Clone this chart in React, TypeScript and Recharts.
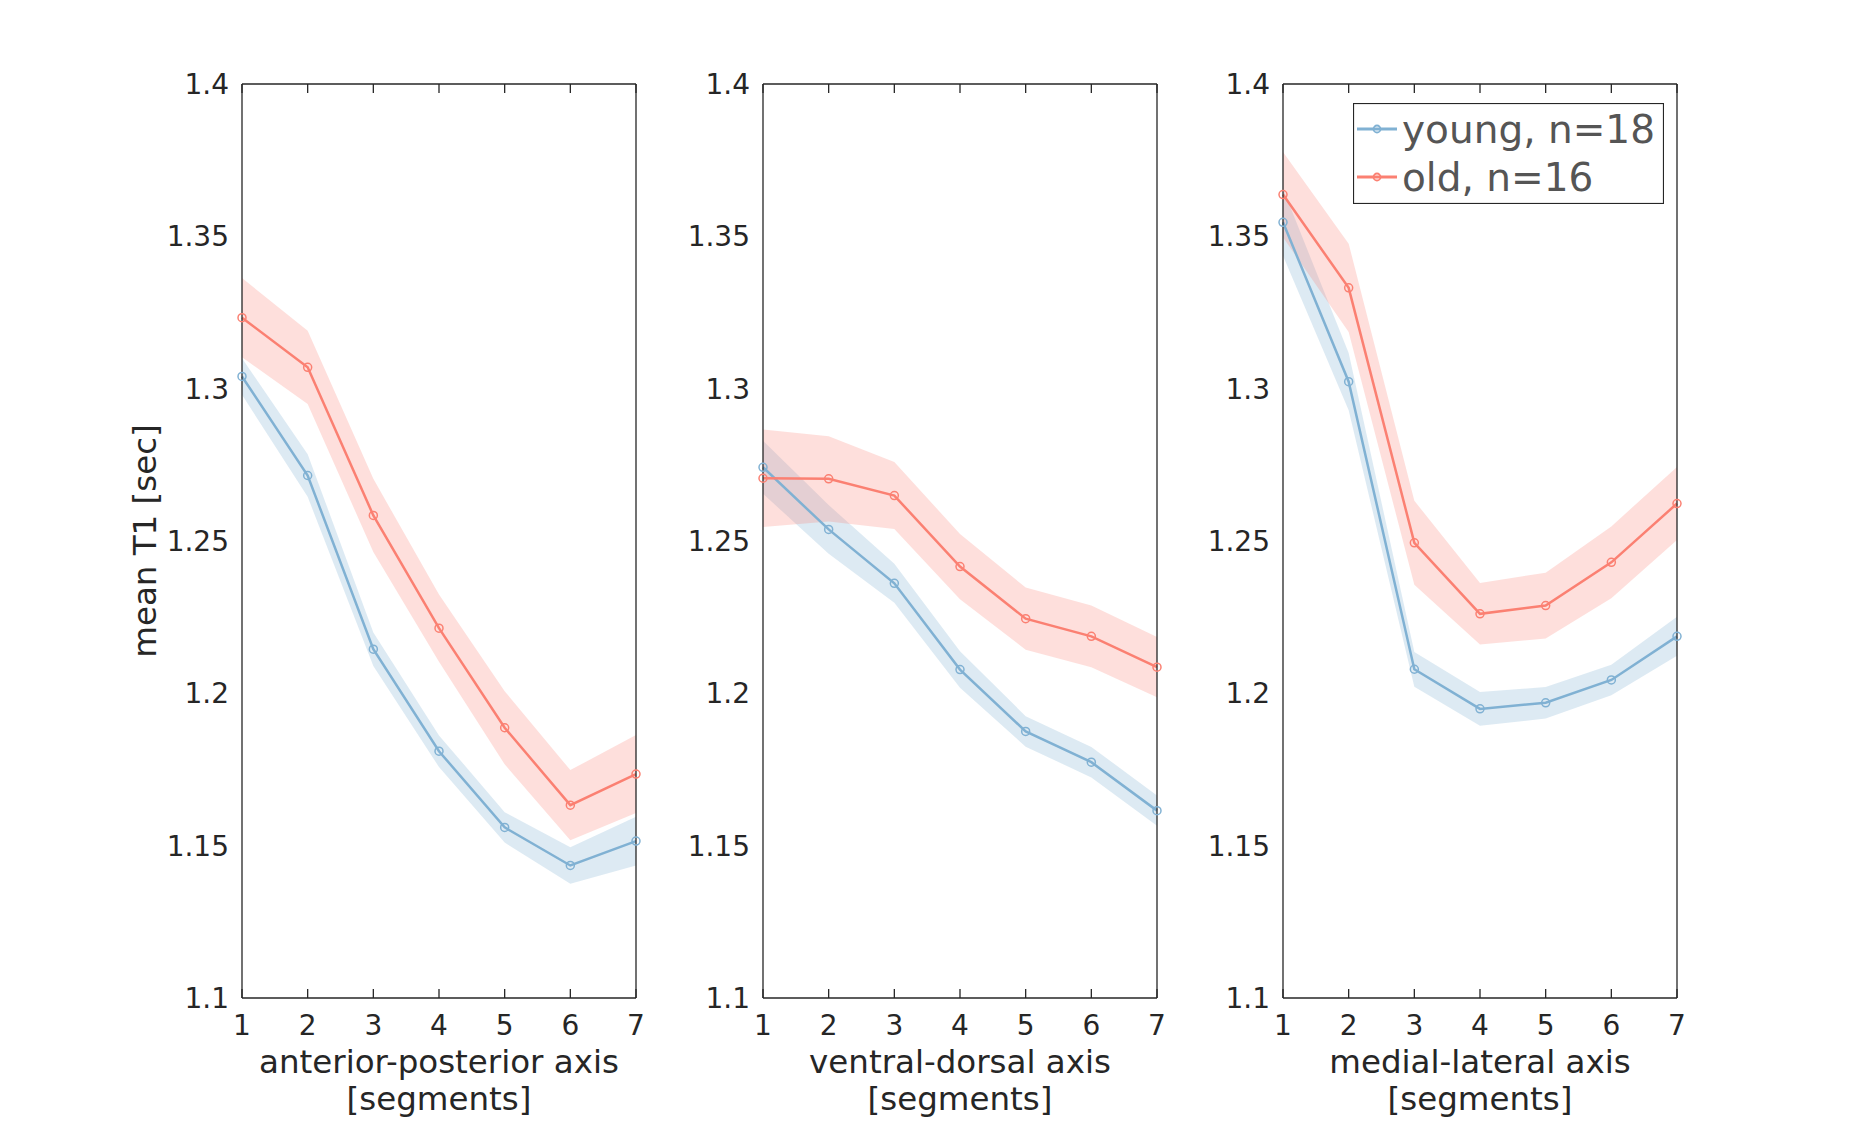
import React from 'react';
import { ComposedChart, Line, Area, XAxis, YAxis, Legend } from 'recharts';

// segment positions along each axis
const segments = [1, 2, 3, 4, 5, 6, 7];
const yTicks = [1.1, 1.15, 1.2, 1.25, 1.3, 1.35, 1.4];

// anterior-posterior
const apYoung = [1.304, 1.2715, 1.2145, 1.181, 1.156, 1.1435, 1.1515];
const apYoungCi = [0.006, 0.007, 0.0055, 0.0052, 0.005, 0.006, 0.008];
const apOld = [1.3233, 1.307, 1.2584, 1.2214, 1.1887, 1.1633, 1.1735];
const apOldCi = [0.013, 0.012, 0.012, 0.011, 0.012, 0.0115, 0.0128];

// ventral-dorsal
const vdYoung = [1.2742, 1.2538, 1.2361, 1.2078, 1.1875, 1.1774, 1.1615];
const vdYoungCi = [0.0087, 0.008, 0.0064, 0.006, 0.005, 0.005, 0.005];
const vdOld = [1.2706, 1.2704, 1.2649, 1.2416, 1.2245, 1.2187, 1.2086];
const vdOldCi = [0.016, 0.014, 0.011, 0.0107, 0.0102, 0.0101, 0.0099];

// medial-lateral
const mlYoung = [1.3546, 1.3023, 1.2079, 1.1949, 1.1969, 1.2044, 1.2187];
const mlYoungCi = [0.011, 0.0094, 0.0057, 0.0055, 0.0052, 0.005, 0.0064];
const mlOld = [1.3637, 1.3331, 1.2494, 1.2261, 1.2288, 1.243, 1.2623];
const mlOldCi = [0.014, 0.0145, 0.0138, 0.0101, 0.0108, 0.0118, 0.012];

const BLUE = '#80b1d3';
const RED = '#fb8072';
const INK = '#262626';

const rows = (young: number[], youngCi: number[], old: number[], oldCi: number[]) =>
  segments.map((seg, i) => ({
    seg,
    young: young[i],
    youngBand: [young[i] - youngCi[i], young[i] + youngCi[i]],
    old: old[i],
    oldBand: [old[i] - oldCi[i], old[i] + oldCi[i]],
  }));

const panels = [
  { title: 'anterior-posterior axis', plotLeft: 242, data: rows(apYoung, apYoungCi, apOld, apOldCi) },
  { title: 'ventral-dorsal axis', plotLeft: 763, data: rows(vdYoung, vdYoungCi, vdOld, vdOldCi) },
  { title: 'medial-lateral axis', plotLeft: 1283, data: rows(mlYoung, mlYoungCi, mlOld, mlOldCi) },
];

const AXIS_W = 120;
const PLOT_W = 394;
const RIGHT = 20;
const TICK = 9;

const NoTick = () => <g />;

const xLabel = (title: string) => (props: any) => {
  const { x, y, width } = props.viewBox;
  const cx = x + width / 2;
  return (
    <text x={cx} y={y} textAnchor="middle" fontSize={32.5} fill={INK}>
      <tspan x={cx} dy={75}>{title}</tspan>
      <tspan x={cx} dy={37}>[segments]</tspan>
    </text>
  );
};

const LegendBox = (props: any) => {
  const payload = props.payload || [];
  const order = ['young', 'old'];
  return (
    <svg width={311} height={101} style={{ display: 'block' }}>
      <rect x={0.5} y={0.5} width={310} height={100} fill="#fff" stroke={INK} strokeWidth={1.2} />
      {order.map((key, i) => {
        const item = payload.find((p: any) => p.dataKey === key);
        if (!item) return null;
        const cy = 26 + i * 48;
        return (
          <g key={key}>
            <line x1={4} x2={44} y1={cy} y2={cy} stroke={item.color} strokeWidth={3} />
            <circle cx={24} cy={cy} r={3.5} fill="none" stroke={item.color} strokeWidth={1.8} />
            <text x={49} y={cy + 14} fontSize={39} fill="#555">{item.value}</text>
          </g>
        );
      })}
    </svg>
  );
};

// tick-only axes drawn inside the box on all four sides
const xFrame = { dataKey: 'seg', type: 'number' as const, domain: [1, 7], ticks: segments, interval: 0 };
const yFrame = { type: 'number' as const, domain: [1.1, 1.4], ticks: yTicks, interval: 0 };

function Panel({ p, index }: { p: (typeof panels)[number]; index: number }) {
  const left = p.plotLeft - AXIS_W;
  return (
    <div style={{ position: 'absolute', left, top: 0 }}>
      <ComposedChart
        width={AXIS_W + PLOT_W + RIGHT}
        height={1121}
        data={p.data}
        margin={{ top: 84, right: RIGHT, bottom: 0, left: 0 }}
      >
        <XAxis
          xAxisId="b"
          {...xFrame}
          height={123}
          tickLine={false}
          axisLine={false}
          tickSize={0}
          tickMargin={17}
          tick={{ fill: INK, fontSize: 28 }}
          label={{ content: xLabel(p.title) }}
        />
        <XAxis xAxisId="bm" {...xFrame} orientation="bottom" mirror height={20} tickSize={TICK} stroke={INK} strokeWidth={1.3} tick={NoTick} />
        <XAxis xAxisId="tm" {...xFrame} orientation="top" mirror height={20} tickSize={TICK} stroke={INK} strokeWidth={1.3} tick={NoTick} />
        <YAxis
          yAxisId="l"
          {...yFrame}
          width={AXIS_W}
          tickLine={false}
          axisLine={false}
          tickSize={0}
          tickMargin={13}
          tick={{ fill: INK, fontSize: 28 }}
          label={
            index === 0
              ? {
                  value: 'mean T1 [sec]',
                  angle: -90,
                  position: 'insideLeft',
                  offset: 22,
                  style: { textAnchor: 'middle', fontSize: 32.5, fill: INK },
                }
              : undefined
          }
        />
        <YAxis yAxisId="lm" {...yFrame} orientation="left" mirror width={20} tickSize={TICK} stroke={INK} strokeWidth={1.3} tick={NoTick} />
        <YAxis yAxisId="rm" {...yFrame} orientation="right" mirror width={20} tickSize={TICK} stroke={INK} strokeWidth={1.3} tick={NoTick} />
        <Area
          xAxisId="b"
          yAxisId="l"
          type="linear"
          dataKey="youngBand"
          stroke="none"
          fill={BLUE}
          fillOpacity={0.27}
          legendType="none"
          activeDot={false}
          isAnimationActive={false}
        />
        <Area
          xAxisId="b"
          yAxisId="l"
          type="linear"
          dataKey="oldBand"
          stroke="none"
          fill={RED}
          fillOpacity={0.25}
          legendType="none"
          activeDot={false}
          isAnimationActive={false}
        />
        <Line
          xAxisId="b"
          yAxisId="l"
          type="linear"
          dataKey="young"
          name="young, n=18"
          stroke={BLUE}
          strokeWidth={2.5}
          dot={{ r: 4, strokeWidth: 1.5, fill: 'none', stroke: BLUE }}
          activeDot={false}
          isAnimationActive={false}
        />
        <Line
          xAxisId="b"
          yAxisId="l"
          type="linear"
          dataKey="old"
          name="old, n=16"
          stroke={RED}
          strokeWidth={2.5}
          dot={{ r: 4, strokeWidth: 1.5, fill: 'none', stroke: RED }}
          activeDot={false}
          isAnimationActive={false}
        />
        {index === 2 && (
          <Legend
            layout="vertical"
            align="center"
            verticalAlign="middle"
            content={LegendBox}
            wrapperStyle={{ left: 1353 - left, top: 103, width: 311, height: 101, margin: 0 }}
          />
        )}
      </ComposedChart>
    </div>
  );
}

export default function App() {
  return (
    <div
      style={{
        position: 'relative',
        width: 1855,
        height: 1121,
        background: '#fff',
        fontFamily: '"DejaVu Sans", sans-serif',
      }}
    >
      <style>{'body { margin: 0; }'}</style>
      {panels.map((p, i) => (
        <Panel key={p.title} p={p} index={i} />
      ))}
    </div>
  );
}
